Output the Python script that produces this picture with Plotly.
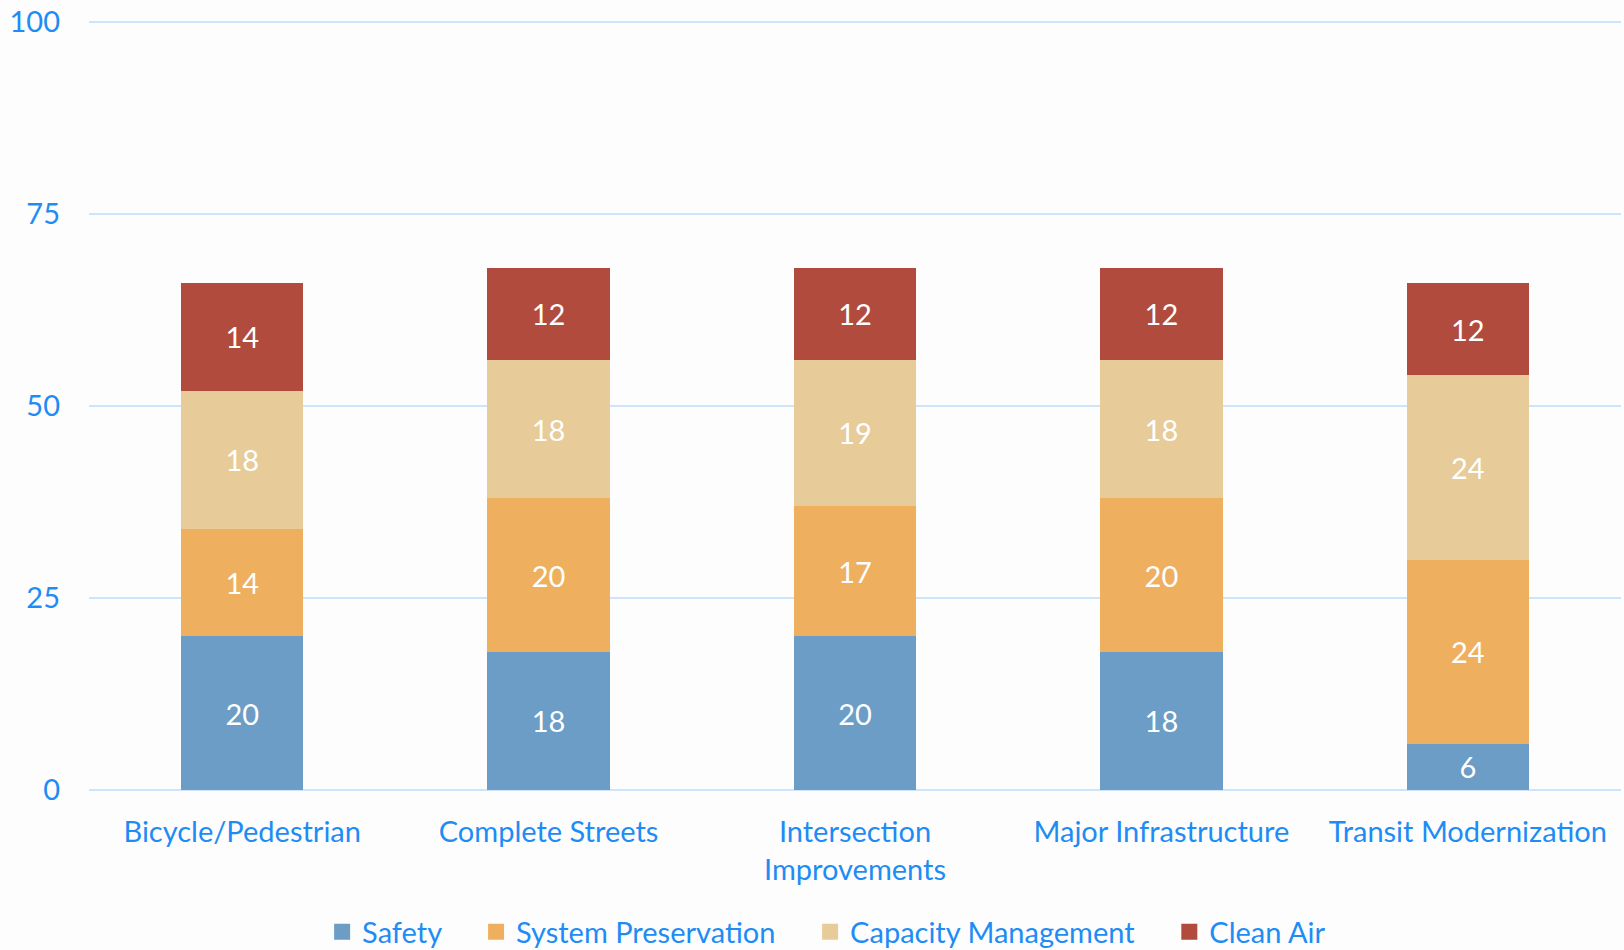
import plotly.graph_objects as go

categories = ["Bicycle/Pedestrian", "Complete Streets", "Intersection<br>Improvements",
              "Major Infrastructure", "Transit Modernization"]
series_names = ["Safety", "System Preservation", "Capacity Management", "Clean Air"]
safety = [20, 18, 20, 18, 6]
system_preservation = [14, 20, 17, 20, 24]
capacity_management = [18, 18, 19, 18, 24]
clean_air = [14, 12, 12, 12, 12]
colors = ["#6B9DC6", "#EEB05F", "#E7CB99", "#B14B3D"]
y_ticks = [0, 25, 50, 75, 100]

FONT = "Lato"
TXT = "#1E8CF5"
FS = 29
PAD = "\u00a0" * 4

fig = go.Figure()
for name, vals, col in zip(series_names,
                           [safety, system_preservation, capacity_management, clean_air],
                           colors):
    fig.add_trace(go.Bar(
        name=name, x=categories, y=vals, marker=dict(color=col, line=dict(width=0)),
        text=[str(v) for v in vals], textposition="inside", insidetextanchor="middle",
        textfont=dict(family=FONT, size=FS, color="white"),
        constraintext="none", showlegend=False,
    ))
# legend entries with larger square symbols
n = len(series_names)
for i, (name, col) in enumerate(zip(series_names, colors)):
    fig.add_trace(go.Scatter(
        name=name + (PAD if i < n - 1 else ""), x=[None], y=[None], mode="markers",
        marker=dict(symbol="square", size=19, color=col), showlegend=True,
    ))

fig.update_layout(
    barmode="stack", bargap=0.6,
    width=1624, height=950,
    margin=dict(l=89, r=3, t=19, b=160),
    paper_bgcolor="#FDFDFD", plot_bgcolor="#FDFDFD",
    font=dict(family=FONT, color=TXT, size=FS),
    showlegend=True,
    legend=dict(orientation="h", xref="container", yref="container",
                x=0.509, xanchor="center", y=0.019, yanchor="middle",
                font=dict(family=FONT, size=FS, color=TXT),
                traceorder="normal", itemwidth=30, tracegroupgap=0,
                bgcolor="rgba(0,0,0,0)"),
)
fig.update_xaxes(showgrid=False, showline=False, ticks="",
                 tickfont=dict(family=FONT, size=FS, color=TXT), ticklabelstandoff=22)
fig.update_yaxes(range=[0, 100.15], tickvals=y_ticks, showgrid=True, gridcolor="#CDE4FA",
                 gridwidth=2, zeroline=True, zerolinecolor="#CDE4FA", zerolinewidth=2,
                 showline=False, ticks="", tickfont=dict(family=FONT, size=FS, color=TXT),
                 ticklabelstandoff=28)

fig.write_html("out.html", config={"displayModeBar": False},
               post_script="document.body.style.margin='0';document.body.style.overflow='hidden';")
